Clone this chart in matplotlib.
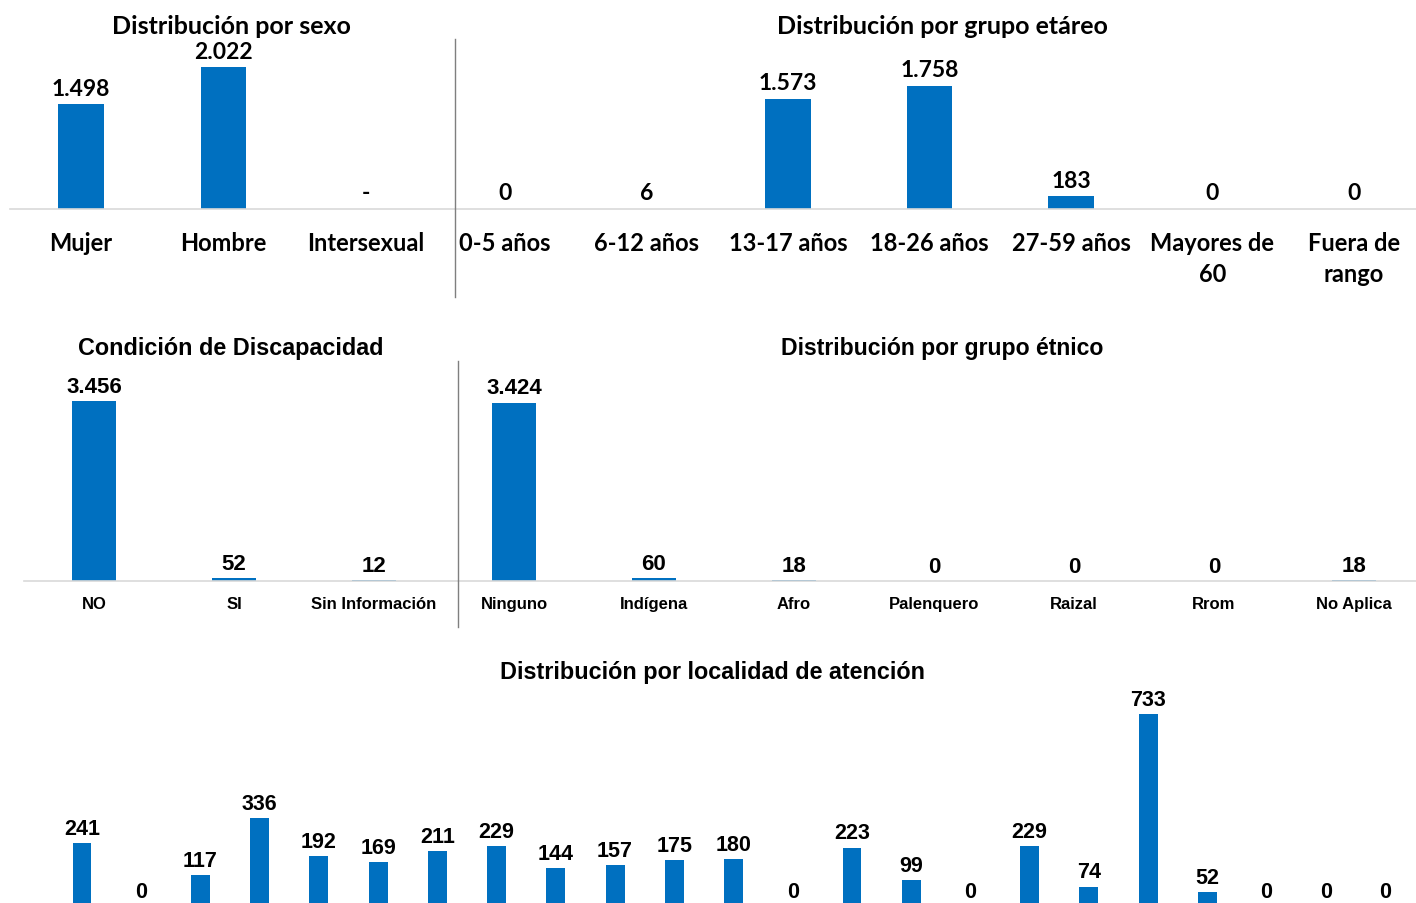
import matplotlib
matplotlib.use("Agg")
import matplotlib.pyplot as plt
from matplotlib.lines import Line2D

# --- datos ---
sexo_cat = ["Mujer", "Hombre", "Intersexual"]
sexo_val = [1498, 2022, 0]

edad_cat = ["0-5 años", "6-12 años", "13-17 años", "18-26 años", "27-59 años",
            "Mayores de\n60", "Fuera de\nrango"]
edad_val = [0, 6, 1573, 1758, 183, 0, 0]

disc_cat = ["NO", "SI", "Sin Información"]
disc_val = [3456, 52, 12]

etnia_cat = ["Ninguno", "Indígena", "Afro", "Palenquero", "Raizal", "Rrom", "No Aplica"]
etnia_val = [3424, 60, 18, 0, 0, 0, 18]

localidad_val = [241, 0, 117, 336, 192, 169, 211, 229, 144, 157, 175, 180,
                 0, 223, 99, 0, 229, 74, 733, 52, 0, 0, 0]

W, H = 1416, 904
BLUE = "#0070C0"
BASE = "#d9d9d9"
SEP = "#7f7f7f"
TOP_FONT = ["Lato", "DejaVu Sans"]
ARIAL = ["Liberation Sans", "DejaVu Sans"]

fig = plt.figure(figsize=(W / 100, H / 100), dpi=100, facecolor="white")


def fmt(v, dash=False):
    if v == 0 and dash:
        return "-"
    return f"{v:,}".replace(",", ".")


def panel(left, right, top, base, c0, sp, ymax, cats, vals, font,
          vsize, csize, vpad, cpad, dash=False):
    ax = fig.add_axes([left / W, 1 - base / H, (right - left) / W, (base - top) / H])
    x = list(range(len(vals)))
    ax.bar(x, vals, width=0.32, color=BLUE)
    ax.set_xlim((left - c0) / sp, (right - c0) / sp)
    ax.set_ylim(0, ymax)
    for xi, v in zip(x, vals):
        ax.annotate(fmt(v, dash), (xi, v), xytext=(0, vpad), textcoords="offset points",
                    ha="center", va="bottom", fontsize=vsize, fontweight="bold",
                    family=font, color="black", annotation_clip=False)
    if cats:
        ax.set_xticks(x)
        ax.set_xticklabels(cats, fontsize=csize, fontweight="bold", family=font,
                           linespacing=1.4)
        ax.tick_params(axis="x", length=0, pad=cpad)
    else:
        ax.set_xticks([])
    ax.set_yticks([])
    for s in ["top", "left", "right"]:
        ax.spines[s].set_visible(False)
    ax.spines["bottom"].set_color(BASE)
    ax.spines["bottom"].set_linewidth(1.2)
    ax.patch.set_alpha(0)
    return ax


# fila superior
panel(10, 455, 40, 210, 81, 142.5, 170 / 0.07, sexo_cat, sexo_val, TOP_FONT,
      16.5, 17, 4, 16, dash=True)
panel(455, 1416, 40, 210, 505, 141.5, 170 / 0.07, edad_cat, edad_val, TOP_FONT,
      16.5, 17, 4, 16)

# fila media
panel(24, 458, 362, 582, 94, 140, 220 / 0.0521, disc_cat, disc_val, ARIAL,
      16, 12, 3, 10.5)
panel(458, 1416, 362, 582, 514, 140, 220 / 0.0521, etnia_cat, etnia_val, ARIAL,
      16, 12, 3, 10.5)

# fila inferior (cortada en el borde)
panel(0, 1416, 690, 907, 82, 59.23, 217 / 0.262, None, localidad_val, ARIAL,
      15.5, 11, 3, 9)

# separadores verticales
fig.add_artist(Line2D([455 / W, 455 / W], [1 - 40 / H, 1 - 298 / H], color=SEP, lw=1))
fig.add_artist(Line2D([458 / W, 458 / W], [1 - 362 / H, 1 - 628 / H], color=SEP, lw=1))

# titulos
def title(txt, x, y, font, size):
    fig.text(x / W, 1 - y / H, txt, ha="center", va="center", fontsize=size,
             fontweight="bold", family=font)

title("Distribución por sexo", 231, 26, TOP_FONT, 18)
title("Distribución por grupo etáreo", 942, 26, TOP_FONT, 18)
title("Condición de Discapacidad", 231, 349, ARIAL, 16.8)
title("Distribución por grupo étnico", 942, 349, ARIAL, 16.6)
title("Distribución por localidad de atención", 713, 672, ARIAL, 16.8)

fig.savefig("out.png", dpi=100, facecolor="white")
